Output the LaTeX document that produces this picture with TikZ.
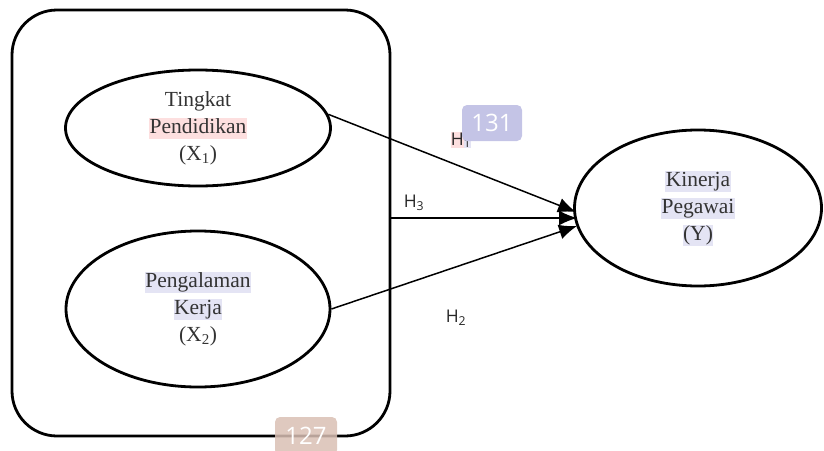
\documentclass[tikz,border=0pt]{standalone}
\usepackage{fontspec}
\setmainfont{Liberation Serif}
\newfontfamily\osans{Open Sans}
\usetikzlibrary{shapes.geometric,arrows.meta}
\definecolor{pinkhl}{HTML}{FDDFDF}
\definecolor{lavhl}{HTML}{E4E4F4}
\definecolor{txtgray}{HTML}{333333}
\definecolor{badgeA}{HTML}{C4C4E6}
\definecolor{badgeB}{HTML}{D9BFB4}
\newcommand\hlbox[2]{{\setlength\fboxsep{0.5pt}\colorbox{#1}{\rule[-5pt]{0pt}{20pt}#2}}}
\newcommand\hlsub[2]{{\setlength\fboxsep{0pt}\colorbox{#1}{\rule[-3pt]{0pt}{16pt}#2}}}
\begin{document}
\begin{tikzpicture}[x=1pt,y=-1pt,
  ell/.style={draw=black,line width=2.8pt,ellipse,inner sep=0pt,align=center,text=txtgray,font=\fontsize{21.5}{27}\selectfont},
  arr/.style={line width=1.5pt,-{Latex[length=18pt,width=15pt]}},
  hlab/.style={font=\osans\fontsize{17.5}{20}\selectfont,inner sep=1pt,text=black!85},
  badge/.style={rounded corners=5pt,text=white,font=\osans\fontsize{24}{26}\selectfont,inner sep=0pt,minimum width=60pt,minimum height=36pt}]
\useasboundingbox (0,0) rectangle (824,450);
\node[draw,line width=2.8pt,rounded corners=45pt,minimum width=378pt,minimum height=426pt] (box) at (201,223) {};
\node[ell,minimum width=265pt,minimum height=116pt] (e1) at (198,128) {Tingkat\\\hlbox{pinkhl}{Pendidikan}\\(X\textsubscript{1})};
\node[ell,minimum width=264pt,minimum height=156pt] (e2) at (198,309) {\hlbox{lavhl}{Pengalaman}\\\hlbox{lavhl}{Kerja}\\(X\textsubscript{2})};
\node[ell,minimum width=247pt,minimum height=156pt] (y) at (698,208) {\hlbox{lavhl}{Kinerja}\\\hlbox{lavhl}{Pegawai}\\\hlbox{lavhl}{(Y)}};
\coordinate (t1) at (576,212);
\coordinate (t3) at (577,218);
\coordinate (t2) at (577,226);
\coordinate (s3) at (box.east |- t3);
\draw[arr] (e1.6) -- (t1);
\draw[arr] (s3) -- (t3);
\draw[arr] (e2.east) -- (t2);
\node[hlab] (h1) at (461,140) {\hlsub{pinkhl}{H}\hlsub{lavhl}{\textsubscript{1}}};
\node[hlab] (h3) at (414,203) {H\textsubscript{3}};
\node[hlab] (h2) at (456,318) {H\textsubscript{2}};
\node[badge,fill=badgeA] (b1) at (492,123) {131};
\node[badge,fill=badgeB,fill opacity=0.85,text opacity=1,minimum width=62pt,minimum height=38pt] (b2) at (306,436) {127};
\end{tikzpicture}
\end{document}
